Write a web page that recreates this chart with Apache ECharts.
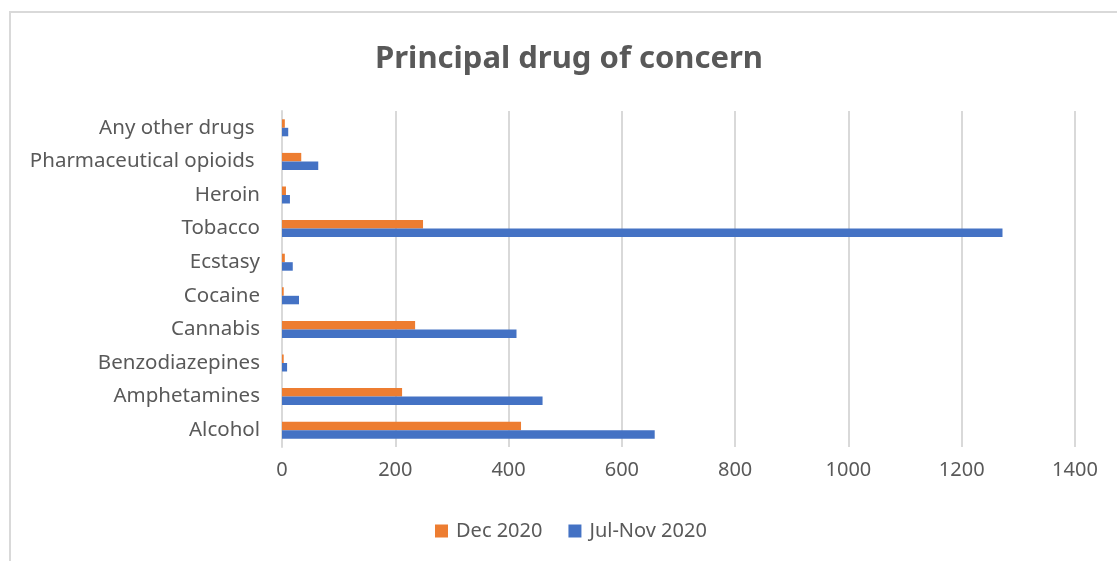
<!DOCTYPE html>
<html>
<head>
<meta charset="utf-8">
<script src="https://cdn.jsdelivr.net/npm/echarts@6/dist/echarts.min.js"></script>
<style>
  html, body { margin: 0; padding: 0; background: #fff; }
  #chart { width: 1117px; height: 561px; }
</style>
</head>
<body>
<div id="chart"></div>
<script>
// categories bottom -> top, as drawn
const drugs = ['Alcohol', 'Amphetamines', 'Benzodiazepines', 'Cannabis', 'Cocaine',
  'Ecstasy', 'Tobacco', 'Heroin', 'Pharmaceutical opioids ', 'Any other drugs '];
const julNov2020 = [658, 460, 9, 414, 30, 19, 1272, 14, 64, 11];
const dec2020 = [422, 212, 3, 235, 3, 5, 249, 7, 34, 5];
const xTicks = [0, 200, 400, 600, 800, 1000, 1200, 1400];

const textColor = '#595959';
const lineColor = '#d9d9d9';
const font = '"Noto Sans", sans-serif';

const chart = echarts.init(document.getElementById('chart'));

chart.setOption({
  animation: false,
  textStyle: { fontFamily: font },
  title: {
    text: 'Principal drug of concern',
    left: 370,
    top: 39,
    textStyle: { fontSize: 31, fontWeight: 'bold', color: textColor, fontFamily: font }
  },
  graphic: [{
    type: 'rect',
    shape: { x: 10, y: 12, width: 1200, height: 600 },
    style: { fill: 'none', stroke: lineColor, lineWidth: 2 },
    silent: true
  }],
  legend: {
    data: ['Dec 2020', 'Jul-Nov 2020'],
    bottom: 15,
    left: 430,
    itemWidth: 13,
    itemHeight: 13,
    itemGap: 26,
    icon: 'rect',
    textStyle: { fontSize: 20, color: textColor, padding: [0, 0, 0, 3] }
  },
  grid: { left: 282, right: 42, top: 111, bottom: 114 },
  xAxis: {
    type: 'value',
    min: xTicks[0],
    max: xTicks[xTicks.length - 1],
    interval: 200,
    axisLine: { show: false },
    axisTick: { show: false },
    axisLabel: { fontSize: 20, color: textColor, margin: 13, formatter: v => String(v) },
    splitLine: { lineStyle: { color: lineColor, width: 2 } }
  },
  yAxis: {
    type: 'category',
    data: drugs,
    axisLine: { lineStyle: { color: lineColor, width: 2 } },
    axisTick: { show: false },
    axisLabel: { fontSize: 20.5, color: textColor, margin: 22 }
  },
  series: [
    {
      name: 'Dec 2020',
      type: 'bar',
      data: dec2020,
      barWidth: 8.5,
      barGap: '0%',
      itemStyle: { color: '#ED7D31' }
    },
    {
      name: 'Jul-Nov 2020',
      type: 'bar',
      data: julNov2020,
      barWidth: 8.5,
      barGap: '0%',
      itemStyle: { color: '#4472C4' }
    }
  ]
});
</script>
</body>
</html>
